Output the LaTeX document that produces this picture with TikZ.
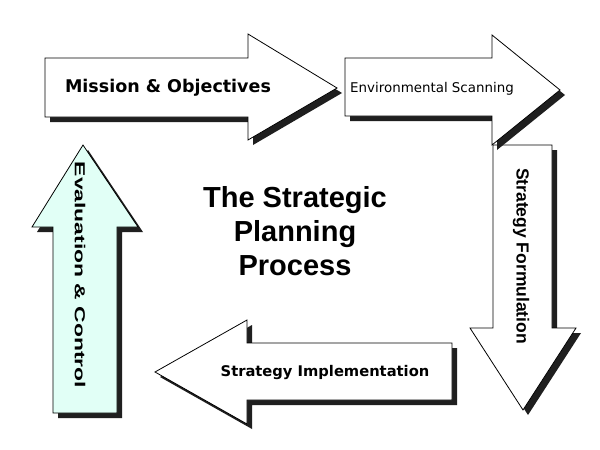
\documentclass[tikz,border=0pt]{standalone}
\usepackage{fontspec}
\setmainfont{Liberation Sans}
\newfontfamily\verdana{DejaVu Sans}
\definecolor{evalcyan}{RGB}{225,255,246}

\begin{document}
\begin{tikzpicture}[x=1pt,y=-1pt,
  blockarrow/.style={draw=black,line width=0.8pt,fill=white,line join=miter},
  dropshadow/.style={fill=black!88,draw=none},
  boldlbl/.style={font=\verdana\bfseries\fontsize{#1}{#1}\selectfont},
  arialbl/.style={font=\bfseries\fontsize{#1}{#1}\selectfont}]
\useasboundingbox[fill=white] (0,0) rectangle (600,450);
% strategy formulation (down)
\fill[dropshadow,shift={(5,5)}] (493,145) -- (552,145) -- (552,328) -- (576,328) -- (523,410) -- (470,328) -- (493,328) -- cycle;
\draw[blockarrow] (493,145) -- (552,145) -- (552,328) -- (576,328) -- (523,410) -- (470,328) -- (493,328) -- cycle;
% environmental scanning
\fill[dropshadow,shift={(5,5)}] (345,58) -- (492,58) -- (492,35) -- (560,90) -- (492,145) -- (492,116) -- (345,116) -- cycle;
\draw[blockarrow] (345,58) -- (492,58) -- (492,35) -- (560,90) -- (492,145) -- (492,116) -- (345,116) -- cycle;
% mission & objectives
\fill[dropshadow,shift={(5,5)}] (45,58) -- (248,58) -- (248,34) -- (337,88) -- (248,140) -- (248,117) -- (45,117) -- cycle;
\draw[blockarrow] (45,58) -- (248,58) -- (248,34) -- (337,88) -- (248,140) -- (248,117) -- (45,117) -- cycle;
% strategy implementation (left)
\fill[dropshadow,shift={(5,5)}] (452,343) -- (247,343) -- (247,320) -- (155,372) -- (247,424) -- (247,400) -- (452,400) -- cycle;
\draw[blockarrow] (452,343) -- (247,343) -- (247,320) -- (155,372) -- (247,424) -- (247,400) -- (452,400) -- cycle;
% evaluation & control (up)
\fill[dropshadow,shift={(5,5)}] (53,413) -- (53,227) -- (32,227) -- (83,145) -- (138,227) -- (117,227) -- (117,413) -- cycle;
\draw[blockarrow,fill=evalcyan] (53,413) -- (53,227) -- (32,227) -- (83,145) -- (138,227) -- (117,227) -- (117,413) -- cycle;

\node[boldlbl=17.5] (mission) at (168,88) {Mission \& Objectives};
\node[font=\verdana\fontsize{13.4}{13.4}\selectfont] (scan) at (432,89) {Environmental Scanning};
\node[arialbl=17.5,rotate=-90] (formul) at (521,256) {Strategy Formulation};
\node[boldlbl=14.7] (implem) at (325,372) {Strategy Implementation};
\node[arialbl=14.5,rotate=-90] (evalctl) at (80,275) {\scalebox{1.58}[1]{Evaluation \& Control}};
\node[align=center,font=\bfseries\fontsize{29}{34}\selectfont] (title) at (295,231) {The Strategic\\Planning\\Process};
\end{tikzpicture}
\end{document}
